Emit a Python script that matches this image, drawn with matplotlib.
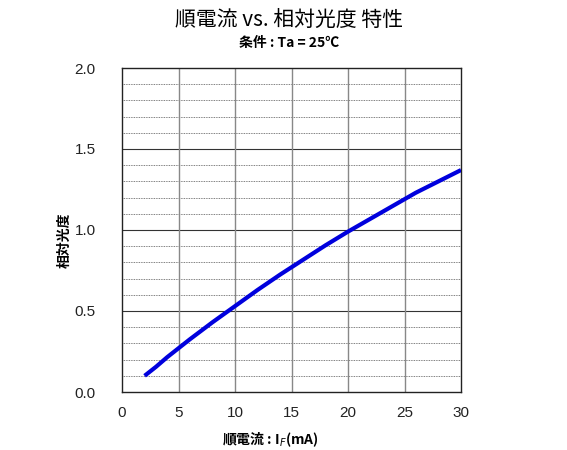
import matplotlib
matplotlib.use("Agg")
import matplotlib.pyplot as plt
import numpy as np

plt.rcParams['font.family'] = ['Noto Sans CJK JP', 'DejaVu Sans']

current_ma = [2, 3, 4, 5, 6, 8, 10, 12, 14, 16, 18, 20, 22, 24, 26, 28, 30]
rel_intensity = [0.10, 0.155, 0.215, 0.27, 0.325, 0.43, 0.53, 0.63, 0.725, 0.815, 0.905, 0.99, 1.07, 1.15, 1.23, 1.30, 1.37]

x_ticks = [0, 5, 10, 15, 20, 25, 30]
y_ticks = [0.0, 0.5, 1.0, 1.5, 2.0]

fig = plt.figure(figsize=(5.67, 4.5), dpi=100)
ax = fig.add_axes([122/567, 1-392/450, (461-122)/567, (392-68)/450])

for i in range(1, 20):
    if i % 5 == 0:
        continue
    ax.axhline(i / 10, color='#555555', lw=0.6, ls=(0, (1, 1)), zorder=1)
for yv in y_ticks[1:-1]:
    ax.axhline(yv, color='#333333', lw=0.8, zorder=1)
for xv in x_ticks[1:-1]:
    ax.axvline(xv, color='#888888', lw=1.0, zorder=1)

ax.plot(current_ma, rel_intensity, color='#0000dd', lw=3, zorder=3, solid_capstyle='butt')

ax.set_xlim(0, 30)
ax.set_ylim(0, 2.0)
ax.set_xticks(x_ticks)
ax.set_yticks(y_ticks)
ax.set_xticklabels([str(v) for v in x_ticks], family='Liberation Sans')
ax.set_yticklabels([f"{v:.1f}" for v in y_ticks], family='Liberation Sans')
ax.tick_params(axis='both', length=0, labelsize=11, colors='#222222')
ax.tick_params(axis='x', pad=10)
ax.tick_params(axis='y', pad=19)
for s in ax.spines.values():
    s.set_color('#222222')
    s.set_linewidth(1.0)

ax.set_ylabel('相対光度', fontsize=10, fontweight='bold')
ax.yaxis.set_label_coords(-0.168, 0.469)
ax.set_xlabel('順電流 : I$_F$(mA)', fontsize=10, fontweight='bold')
ax.xaxis.set_label_coords(0.437, -0.148)
ax.xaxis.label.set_va('center')
ax.yaxis.label.set_va('center')

fig.text(0.51, 0.955, '順電流 vs. 相対光度 特性', ha='center', va='center', fontsize=15)
fig.text(0.51, 0.905, '条件 : Ta = 25℃', ha='center', va='center', fontsize=10, fontweight='bold')

fig.savefig('out.png', dpi=100, facecolor='white')
